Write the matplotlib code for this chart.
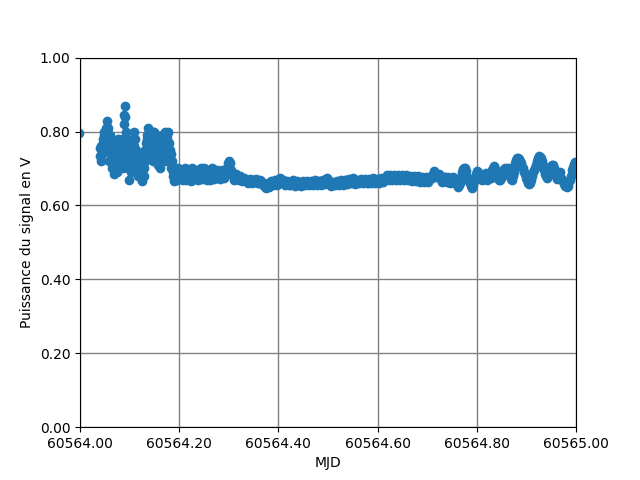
import matplotlib
matplotlib.use("Agg")
import matplotlib.pyplot as plt
from matplotlib.ticker import FormatStrFormatter

# --- main samples ---
mjd = [
    60563.998,
    60564.040, 60564.042, 60564.044, 60564.046, 60564.048, 60564.050, 60564.052, 60564.054,
    60564.056, 60564.058, 60564.060, 60564.062, 60564.064, 60564.066, 60564.068, 60564.070,
    60564.072, 60564.074, 60564.076, 60564.078, 60564.080, 60564.082, 60564.084, 60564.086,
    60564.088, 60564.089, 60564.090, 60564.091, 60564.092, 60564.094, 60564.096, 60564.098,
    60564.100, 60564.102, 60564.104, 60564.106, 60564.108, 60564.110, 60564.112, 60564.114,
    60564.116, 60564.118, 60564.120, 60564.122, 60564.124, 60564.126, 60564.128, 60564.130,
    60564.132, 60564.134, 60564.136, 60564.138, 60564.140, 60564.142, 60564.144, 60564.146,
    60564.148, 60564.150, 60564.152, 60564.154, 60564.156, 60564.158, 60564.160, 60564.162,
    60564.164, 60564.166, 60564.168, 60564.170, 60564.172, 60564.174, 60564.176, 60564.178,
    60564.180, 60564.182, 60564.184, 60564.186, 60564.188, 60564.190, 60564.192, 60564.194,
    60564.196, 60564.198, 60564.200,
    60564.204, 60564.208, 60564.212, 60564.216, 60564.220, 60564.224, 60564.228, 60564.232,
    60564.236, 60564.240, 60564.244, 60564.248, 60564.252, 60564.256, 60564.260, 60564.264,
    60564.268, 60564.272, 60564.276, 60564.280, 60564.284, 60564.288, 60564.292, 60564.296,
    60564.298, 60564.300, 60564.302, 60564.304, 60564.308, 60564.312, 60564.316, 60564.320,
    60564.324, 60564.328, 60564.332, 60564.336, 60564.340, 60564.344, 60564.348, 60564.352,
    60564.356, 60564.360, 60564.364, 60564.368, 60564.372, 60564.376, 60564.380, 60564.384,
    60564.388, 60564.392, 60564.396, 60564.400, 60564.404, 60564.408, 60564.412,
    60564.416, 60564.420, 60564.424, 60564.428, 60564.432, 60564.436, 60564.440, 60564.444,
    60564.448, 60564.452, 60564.456, 60564.460, 60564.464, 60564.468, 60564.472, 60564.476,
    60564.480, 60564.484, 60564.488, 60564.492, 60564.496, 60564.500, 60564.504, 60564.508,
    60564.512, 60564.516, 60564.520, 60564.524, 60564.528, 60564.532, 60564.536, 60564.540,
    60564.544, 60564.548, 60564.552, 60564.556, 60564.560, 60564.564, 60564.568, 60564.572,
    60564.576, 60564.580, 60564.584, 60564.588, 60564.592, 60564.596, 60564.600, 60564.604,
    60564.608, 60564.612, 60564.616, 60564.620, 60564.624, 60564.628, 60564.632, 60564.636,
    60564.640, 60564.644, 60564.648, 60564.652, 60564.656, 60564.660, 60564.664, 60564.668,
    60564.672, 60564.676, 60564.680, 60564.684, 60564.688, 60564.692, 60564.696, 60564.700,
    60564.704, 60564.708, 60564.712, 60564.716, 60564.720, 60564.724, 60564.728, 60564.732,
    60564.736, 60564.740, 60564.744, 60564.748, 60564.752, 60564.756, 60564.760, 60564.762,
    60564.766, 60564.770, 60564.774, 60564.778, 60564.782, 60564.786, 60564.790, 60564.794,
    60564.798, 60564.802, 60564.806, 60564.810, 60564.814, 60564.818, 60564.822, 60564.826,
    60564.830, 60564.834, 60564.838, 60564.842, 60564.846, 60564.850, 60564.854, 60564.858,
    60564.862, 60564.866, 60564.870, 60564.874, 60564.878, 60564.882, 60564.886, 60564.890,
    60564.894, 60564.898, 60564.902, 60564.906, 60564.910, 60564.914, 60564.918, 60564.922,
    60564.926, 60564.930, 60564.934, 60564.938, 60564.942, 60564.946, 60564.950, 60564.954,
    60564.958, 60564.962, 60564.966, 60564.970, 60564.974, 60564.978, 60564.982, 60564.986,
    60564.990, 60564.994, 60564.998, 60565.000,
]

power = [
    0.795,
    0.755, 0.720, 0.740, 0.780, 0.800, 0.760, 0.790, 0.828,
    0.810, 0.770, 0.790, 0.740, 0.700, 0.760, 0.685, 0.720,
    0.770, 0.690, 0.750, 0.710, 0.760, 0.730, 0.780, 0.700,
    0.820, 0.845, 0.868, 0.840, 0.800, 0.760, 0.720, 0.670,
    0.750, 0.690, 0.770, 0.730, 0.800, 0.780, 0.700, 0.740,
    0.680, 0.720, 0.690, 0.710, 0.665, 0.700, 0.730, 0.680,
    0.750, 0.770, 0.790, 0.810, 0.800, 0.760, 0.790, 0.740,
    0.800, 0.800, 0.770, 0.790, 0.750, 0.720, 0.780, 0.700,
    0.760, 0.790, 0.740, 0.780, 0.800, 0.760, 0.790, 0.800,
    0.770, 0.720, 0.740, 0.700, 0.680, 0.665, 0.700, 0.680,
    0.670, 0.690, 0.675,
    0.690, 0.670, 0.700, 0.675, 0.685, 0.665, 0.690, 0.680,
    0.695, 0.675, 0.700, 0.680, 0.690, 0.670, 0.695, 0.675,
    0.690, 0.680, 0.695, 0.675, 0.690, 0.680, 0.695, 0.700,
    0.715, 0.720, 0.715, 0.695, 0.680, 0.675, 0.680, 0.670,
    0.675, 0.668, 0.672, 0.665, 0.670, 0.666, 0.670, 0.664,
    0.668, 0.662, 0.665, 0.655, 0.650, 0.652, 0.660, 0.655,
    0.660, 0.662, 0.660, 0.668, 0.675, 0.670, 0.662,
    0.658, 0.662, 0.656, 0.660, 0.655, 0.662, 0.658, 0.655,
    0.660, 0.657, 0.662, 0.658, 0.660, 0.663, 0.657, 0.662,
    0.660, 0.665, 0.658, 0.664, 0.672, 0.668, 0.660, 0.656,
    0.658, 0.662, 0.660, 0.665, 0.660, 0.664, 0.668, 0.662,
    0.666, 0.672, 0.666, 0.662, 0.667, 0.663, 0.668, 0.664,
    0.667, 0.662, 0.668, 0.665, 0.670, 0.666, 0.664, 0.668,
    0.672, 0.668, 0.674, 0.678, 0.672, 0.676, 0.680, 0.674,
    0.678, 0.672, 0.680, 0.676, 0.674, 0.678, 0.672, 0.676,
    0.670, 0.675, 0.672, 0.676, 0.668, 0.672, 0.666, 0.670,
    0.672, 0.680, 0.685, 0.688, 0.678, 0.686, 0.672, 0.668,
    0.676, 0.664, 0.672, 0.668, 0.676, 0.665, 0.658, 0.650,
    0.662, 0.690, 0.700, 0.692, 0.668, 0.660, 0.648, 0.665,
    0.685, 0.690, 0.675, 0.668, 0.680, 0.688, 0.672, 0.680,
    0.695, 0.707, 0.690, 0.675, 0.668, 0.685, 0.698, 0.690,
    0.700, 0.680, 0.668, 0.690, 0.715, 0.728, 0.725, 0.715,
    0.700, 0.685, 0.668, 0.657, 0.670, 0.690, 0.700, 0.720,
    0.734, 0.728, 0.710, 0.685, 0.675, 0.690, 0.705, 0.710,
    0.690, 0.672, 0.685, 0.675, 0.665, 0.652, 0.650, 0.665,
    0.680, 0.705, 0.718, 0.712,
]

# --- intermediate samples (fill the band) ---
mjd_b = [
    60564.041, 60564.043, 60564.045, 60564.047, 60564.049, 60564.051, 60564.053, 60564.055,
    60564.057, 60564.059, 60564.061, 60564.063, 60564.065, 60564.067, 60564.069, 60564.071,
    60564.073, 60564.075, 60564.077, 60564.079, 60564.081, 60564.083, 60564.085, 60564.087,
    60564.093, 60564.095, 60564.097, 60564.099, 60564.101, 60564.103, 60564.105, 60564.107,
    60564.109, 60564.111, 60564.113, 60564.115, 60564.117, 60564.119, 60564.121, 60564.123,
    60564.125, 60564.127, 60564.129, 60564.131, 60564.133, 60564.135, 60564.137, 60564.139,
    60564.141, 60564.143, 60564.145, 60564.147, 60564.149, 60564.151, 60564.153, 60564.155,
    60564.157, 60564.159, 60564.161, 60564.163, 60564.165, 60564.167, 60564.169, 60564.171,
    60564.173, 60564.175, 60564.177, 60564.179, 60564.181, 60564.183, 60564.185, 60564.187,
    60564.189, 60564.191, 60564.193, 60564.195, 60564.197, 60564.199,
    60564.202, 60564.206, 60564.210, 60564.214, 60564.218, 60564.222, 60564.226, 60564.230,
    60564.234, 60564.238, 60564.242, 60564.246, 60564.250, 60564.254, 60564.258, 60564.262,
    60564.266, 60564.270, 60564.274, 60564.278, 60564.282, 60564.286, 60564.290, 60564.294,
    60564.306, 60564.310, 60564.314, 60564.318, 60564.322, 60564.326, 60564.330, 60564.334,
    60564.338, 60564.342, 60564.346, 60564.350, 60564.354, 60564.358, 60564.362, 60564.366,
    60564.370, 60564.374, 60564.378, 60564.382, 60564.386, 60564.390, 60564.394, 60564.398,
    60564.402, 60564.406, 60564.410, 60564.414, 60564.418, 60564.422, 60564.426, 60564.430,
    60564.434, 60564.438, 60564.442, 60564.446, 60564.450, 60564.454, 60564.458, 60564.462,
    60564.466, 60564.470, 60564.474, 60564.478, 60564.482, 60564.486, 60564.490, 60564.494,
    60564.498, 60564.502, 60564.506, 60564.510, 60564.514, 60564.518, 60564.522, 60564.526,
    60564.530, 60564.534, 60564.538, 60564.542, 60564.546, 60564.550, 60564.554, 60564.558,
    60564.562, 60564.566, 60564.570, 60564.574, 60564.578, 60564.582, 60564.586, 60564.590,
    60564.594, 60564.598, 60564.602, 60564.606, 60564.610, 60564.614, 60564.618, 60564.622,
    60564.626, 60564.630, 60564.634, 60564.638, 60564.642, 60564.646, 60564.650, 60564.654,
    60564.658, 60564.662, 60564.666, 60564.670, 60564.674, 60564.678, 60564.682, 60564.686,
    60564.690, 60564.694, 60564.698, 60564.702, 60564.706, 60564.710, 60564.714, 60564.718,
    60564.722, 60564.726, 60564.730, 60564.734, 60564.738, 60564.742, 60564.746, 60564.750,
    60564.754, 60564.758,
    60564.764, 60564.768, 60564.772, 60564.776, 60564.780, 60564.784, 60564.788, 60564.792,
    60564.796, 60564.800, 60564.804, 60564.808, 60564.812, 60564.816, 60564.820, 60564.824,
    60564.828, 60564.832, 60564.836, 60564.840, 60564.844, 60564.848, 60564.852, 60564.856,
    60564.860, 60564.864, 60564.868, 60564.872, 60564.876, 60564.880, 60564.884, 60564.888,
    60564.892, 60564.896, 60564.900, 60564.904, 60564.908, 60564.912, 60564.916, 60564.920,
    60564.924, 60564.928, 60564.932, 60564.936, 60564.940, 60564.944, 60564.948, 60564.952,
    60564.956, 60564.960, 60564.964, 60564.968, 60564.972, 60564.976, 60564.980, 60564.984,
    60564.988, 60564.992, 60564.996,
]

power_b = [
    0.735, 0.760, 0.745, 0.770, 0.790, 0.780, 0.810, 0.800,
    0.750, 0.720, 0.760, 0.780, 0.730, 0.710, 0.750, 0.740,
    0.760, 0.720, 0.780, 0.745, 0.700, 0.750, 0.725, 0.770,
    0.780, 0.740, 0.700, 0.720, 0.770, 0.710, 0.750, 0.780,
    0.760, 0.720, 0.750, 0.710, 0.730, 0.700, 0.680, 0.720,
    0.690, 0.715, 0.700, 0.720, 0.740, 0.780, 0.760, 0.790,
    0.780, 0.740, 0.770, 0.720, 0.760, 0.740, 0.760, 0.730,
    0.710, 0.740, 0.760, 0.720, 0.740, 0.770, 0.750, 0.720,
    0.740, 0.780, 0.750, 0.730, 0.750, 0.700, 0.720, 0.690,
    0.675, 0.685, 0.690, 0.675, 0.700, 0.685,
    0.672, 0.695, 0.680, 0.668, 0.695, 0.678, 0.700, 0.672,
    0.685, 0.668, 0.688, 0.672, 0.700, 0.680, 0.685, 0.668,
    0.700, 0.672, 0.685, 0.690, 0.672, 0.695, 0.675, 0.688,
    0.688, 0.670, 0.685, 0.672, 0.680, 0.665, 0.675, 0.670,
    0.662, 0.672, 0.662, 0.668, 0.672, 0.660, 0.668, 0.660,
    0.656, 0.648, 0.658, 0.650, 0.665, 0.655, 0.668, 0.656,
    0.672, 0.665, 0.668, 0.655, 0.665, 0.655, 0.663, 0.668,
    0.652, 0.666, 0.662, 0.652, 0.665, 0.654, 0.666, 0.655,
    0.666, 0.655, 0.668, 0.656, 0.666, 0.656, 0.668, 0.658,
    0.674, 0.664, 0.653, 0.664, 0.655, 0.666, 0.656, 0.668,
    0.656, 0.670, 0.658, 0.672, 0.662, 0.674, 0.658, 0.670,
    0.660, 0.672, 0.660, 0.672, 0.660, 0.672, 0.660, 0.674,
    0.662, 0.672, 0.662, 0.675, 0.664, 0.668, 0.682, 0.668,
    0.682, 0.670, 0.682, 0.668, 0.682, 0.668, 0.682, 0.668,
    0.682, 0.668, 0.680, 0.666, 0.680, 0.666, 0.680, 0.664,
    0.676, 0.664, 0.676, 0.664, 0.678, 0.674, 0.692, 0.682,
    0.676, 0.680, 0.664, 0.676, 0.668, 0.678, 0.662, 0.672,
    0.660, 0.670,
    0.655, 0.678, 0.698, 0.700, 0.678, 0.665, 0.652, 0.655,
    0.675, 0.692, 0.680, 0.672, 0.676, 0.684, 0.670, 0.685,
    0.675, 0.700, 0.698, 0.680, 0.670, 0.675, 0.690, 0.700,
    0.685, 0.690, 0.672, 0.680, 0.700, 0.722, 0.728, 0.720,
    0.705, 0.690, 0.675, 0.662, 0.660, 0.680, 0.695, 0.710,
    0.728, 0.732, 0.720, 0.695, 0.680, 0.680, 0.698, 0.710,
    0.700, 0.680, 0.675, 0.690, 0.668, 0.658, 0.655, 0.652,
    0.670, 0.695, 0.712,
]

x_ticks = [60564.0, 60564.2, 60564.4, 60564.6, 60564.8, 60565.0]
y_ticks = [0.0, 0.2, 0.4, 0.6, 0.8, 1.0]

fig, ax = plt.subplots(figsize=(6.4, 4.8), dpi=100)
ax.plot(mjd + mjd_b, power + power_b, 'o', color='#1f77b4')
ax.set_xlim(60564.0, 60565.0)
ax.set_ylim(0.0, 1.0)
ax.set_xticks(x_ticks)
ax.set_yticks(y_ticks)
ax.xaxis.set_major_formatter(FormatStrFormatter('%.2f'))
ax.yaxis.set_major_formatter(FormatStrFormatter('%.2f'))
ax.grid(True, color='gray', linewidth=1.0)
ax.set_xlabel('MJD')
ax.set_ylabel('Puissance du signal en V')
fig.savefig('out.png', dpi=100)
